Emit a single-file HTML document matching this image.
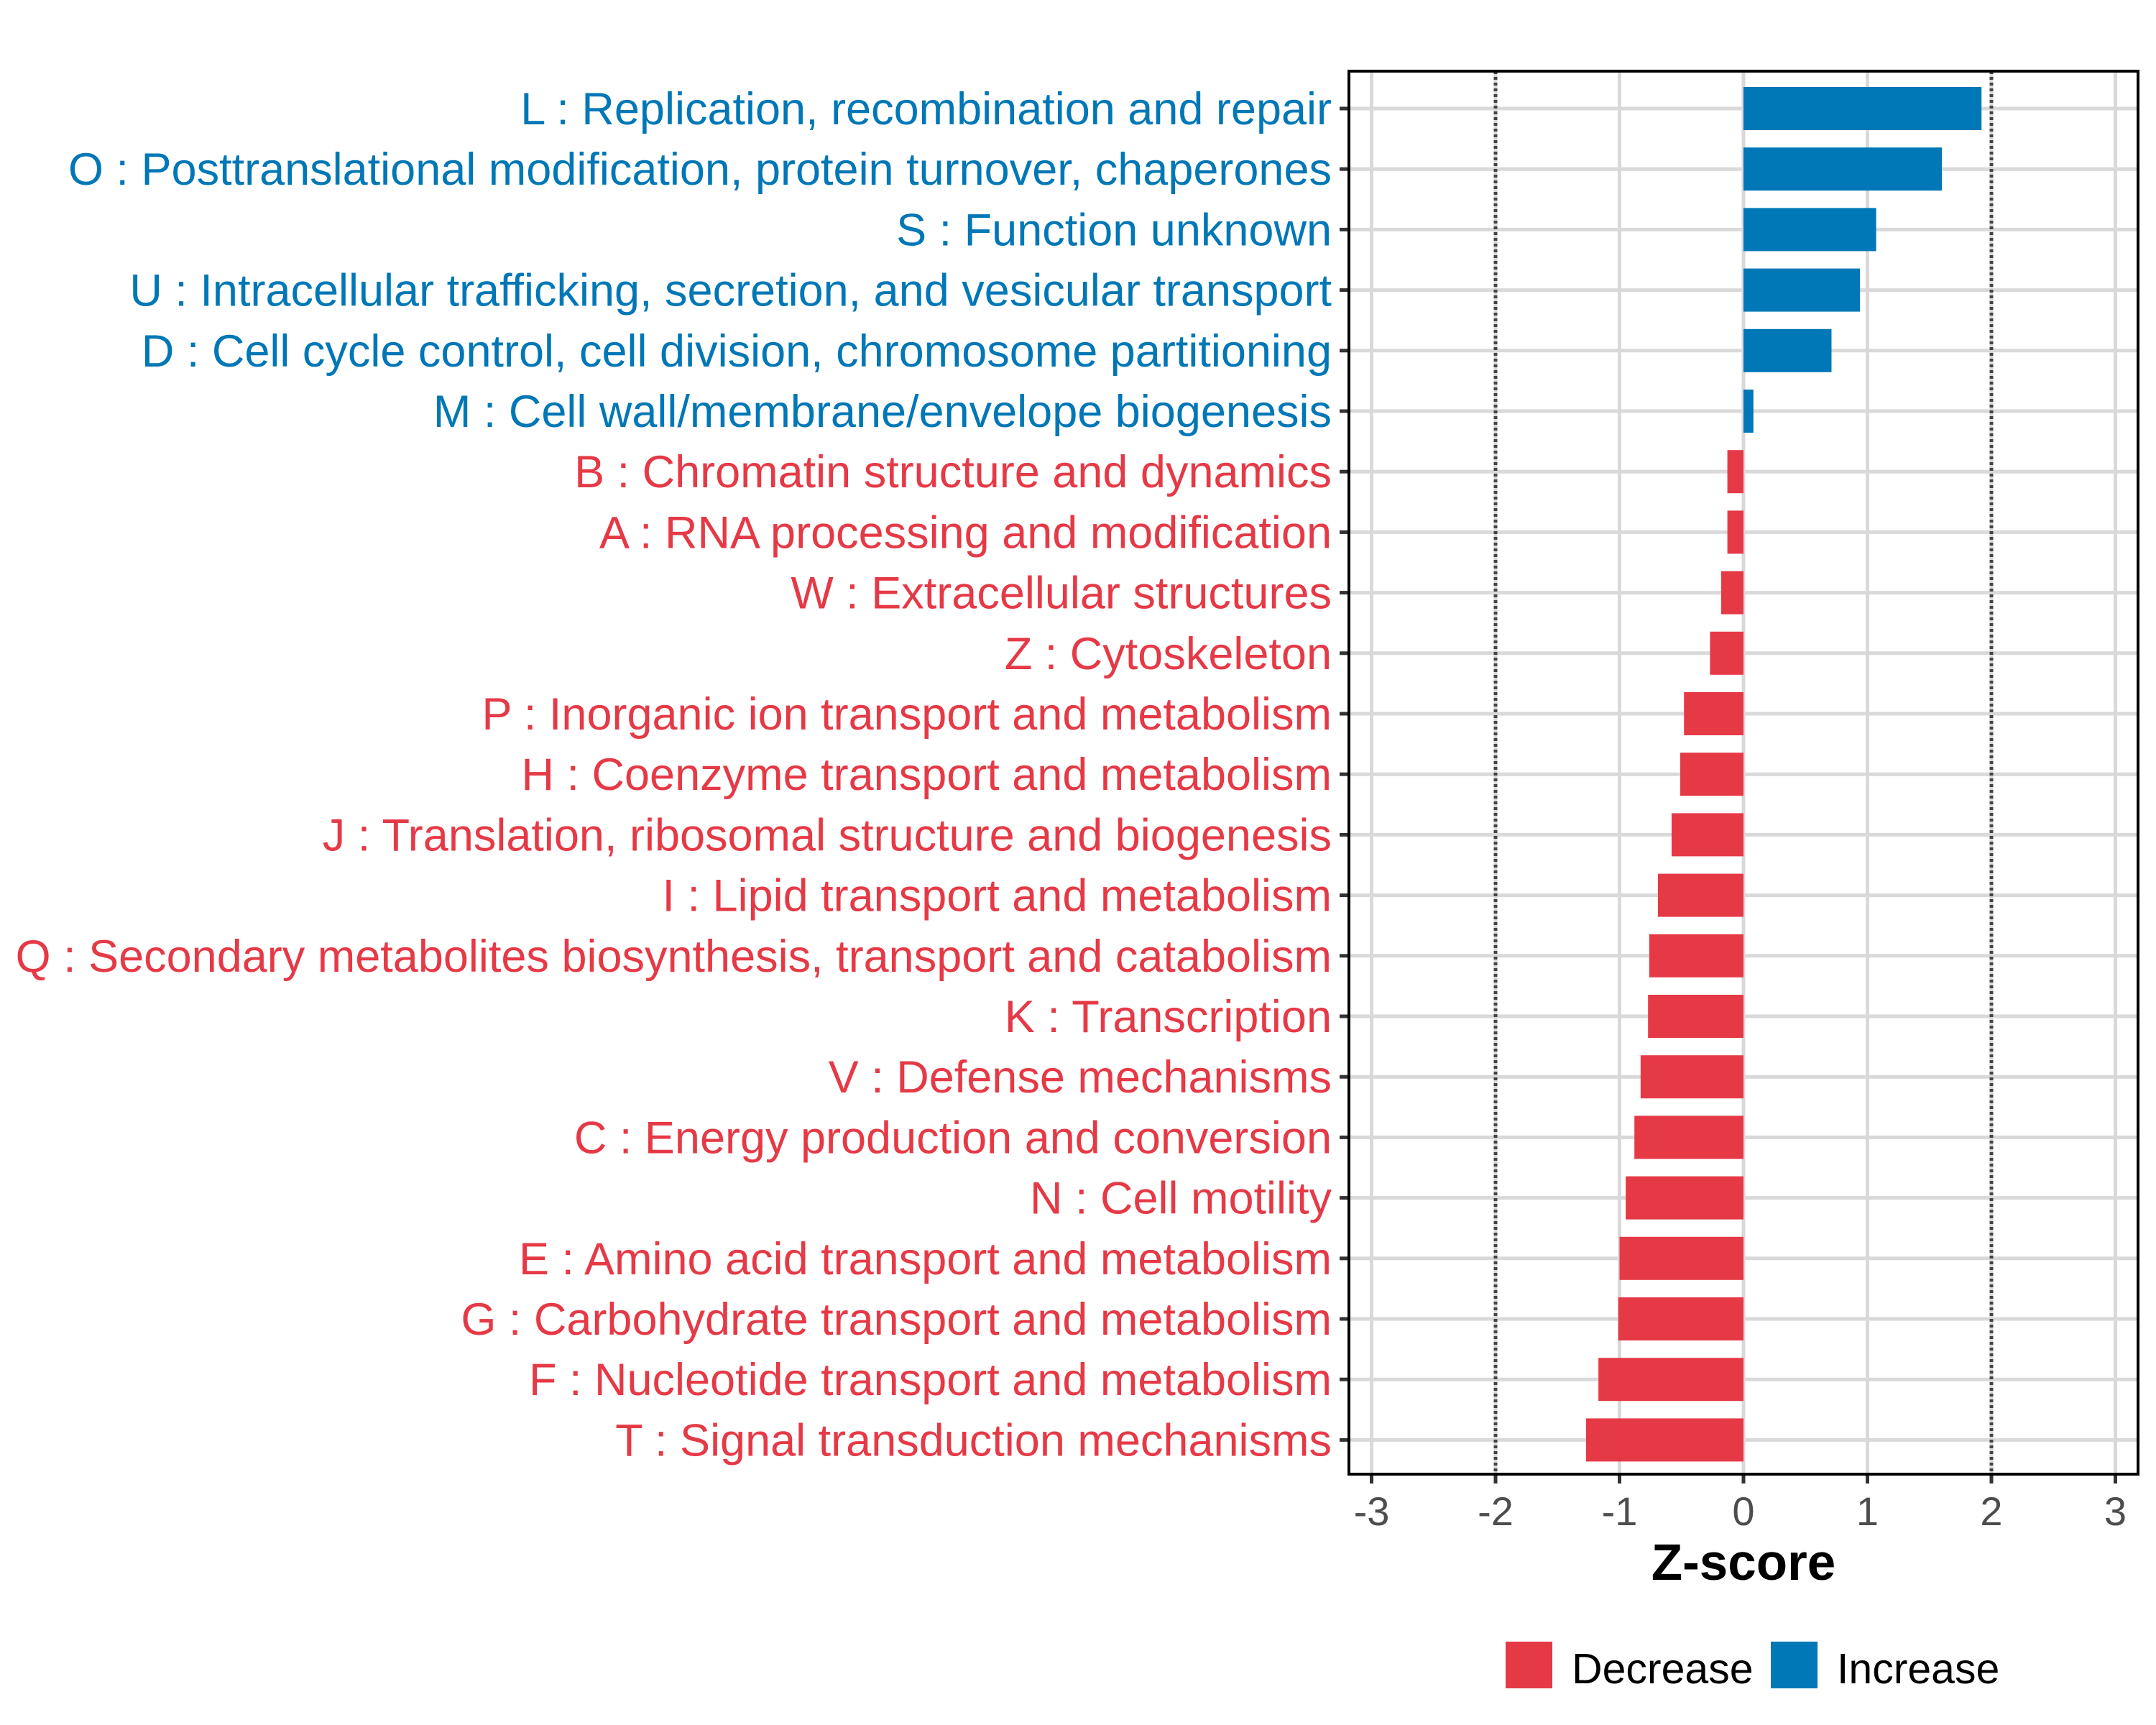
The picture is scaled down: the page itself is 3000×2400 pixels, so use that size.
<!DOCTYPE html>
<html><head><meta charset="utf-8"><style>
html,body{margin:0;padding:0;background:#fff;}
svg{display:block;font-family:"Liberation Sans",Arial,sans-serif;}
</style></head><body>
<svg id="chart" width="3000" height="2400" viewBox="0 0 3000 2400">
<g id="grid"></g>
<g id="bars"></g>
<g id="ylabels"></g>
<g id="xaxis"></g>
<text x="2426" y="2198" font-size="71" font-weight="bold" text-anchor="middle">Z-score</text>
<g>
<rect x="2095" y="2284" width="65" height="65" fill="#e63946"/>
<text x="2187" y="2342" font-size="59">Decrease</text>
<rect x="2464" y="2284" width="65" height="65" fill="#0077b6"/>
<text x="2556" y="2342" font-size="59">Increase</text>
</g>
</svg>
<script>
const categories = ["L : Replication, recombination and repair","O : Posttranslational modification, protein turnover, chaperones","S : Function unknown","U : Intracellular trafficking, secretion, and vesicular transport","D : Cell cycle control, cell division, chromosome partitioning","M : Cell wall/membrane/envelope biogenesis","B : Chromatin structure and dynamics","A : RNA processing and modification","W : Extracellular structures","Z : Cytoskeleton","P : Inorganic ion transport and metabolism","H : Coenzyme transport and metabolism","J : Translation, ribosomal structure and biogenesis","I : Lipid transport and metabolism","Q : Secondary metabolites biosynthesis, transport and catabolism","K : Transcription","V : Defense mechanisms","C : Energy production and conversion","N : Cell motility","E : Amino acid transport and metabolism","G : Carbohydrate transport and metabolism","F : Nucleotide transport and metabolism","T : Signal transduction mechanisms"];
const zscores = [1.92,1.60,1.07,0.94,0.71,0.08,-0.13,-0.13,-0.18,-0.27,-0.48,-0.51,-0.58,-0.69,-0.76,-0.77,-0.83,-0.88,-0.95,-1.0,-1.01,-1.17,-1.27];
const xTicks = [-3,-2,-1,0,1,2,3];
const thresholds = [-2,2];

const NS="http://www.w3.org/2000/svg";
const L=1877,R=2975,T=99,B=2051;
const x0=2426, unit=172.5;
function xs(v){return x0+v*unit;}
const rowTop=151, rowStep=84.2, barH=60;
function ys(i){return rowTop+i*rowStep;}
const RED="#e63946", BLUE="#0077b6";
function mk(tag,attrs,parent){const e=document.createElementNS(NS,tag);for(const k in attrs)e.setAttribute(k,attrs[k]);parent.appendChild(e);return e;}
const grid=document.getElementById('grid'),bars=document.getElementById('bars'),yl=document.getElementById('ylabels'),xa=document.getElementById('xaxis');
xTicks.forEach(t=>{
  const g=mk('line',{x1:xs(t),x2:xs(t),y1:T,y2:B,stroke:'#d9d9d9','stroke-width':5},grid);
  
  
  const tk=mk('line',{x1:xs(t),x2:xs(t),y1:B,y2:B+13,stroke:'#333','stroke-width':5},xa);
  
  
  const tl=mk('text',{x:xs(t),y:2122,'font-size':56,'text-anchor':'middle',fill:'#4d4d4d'},xa);
  tl.textContent=String(t);
  
  
});
categories.forEach((c,i)=>{
  const y=ys(i);
  const g=mk('line',{x1:L,x2:R,y1:y,y2:y,stroke:'#d9d9d9','stroke-width':5},grid);
  
  
  const v=zscores[i];
  const col=v>=0?BLUE:RED;
  const r=mk('rect',{x:Math.min(xs(0),xs(v)),y:y-barH/2,width:Math.abs(xs(v)-xs(0)),height:barH,fill:col},bars);
  
  
  const tk=mk('line',{x1:L-13,x2:L,y1:y,y2:y,stroke:'#333','stroke-width':5},yl);
  
  
  const tl=mk('text',{x:1853,y:y+22,'font-size':63,'text-anchor':'end',fill:col},yl);
  tl.textContent=c;
  
  
});
thresholds.forEach(t=>{
  const d=mk('line',{x1:xs(t),x2:xs(t),y1:T,y2:B,stroke:'#444','stroke-width':5,'stroke-dasharray':'4 4'},grid);
  
  
});
const frame=mk('rect',{x:L,y:T,width:R-L,height:B-T,fill:'none',stroke:'#000','stroke-width':4},document.getElementById('chart'));


</script>
</body></html>
